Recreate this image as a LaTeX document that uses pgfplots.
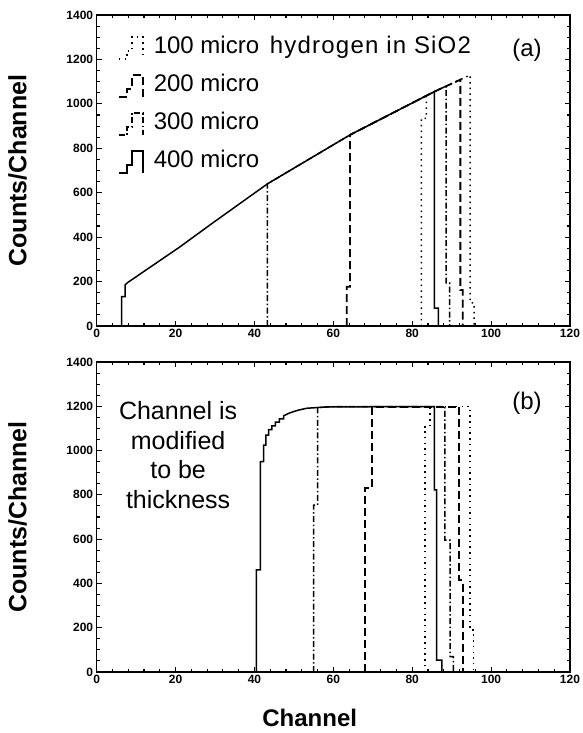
\documentclass[border=0pt]{standalone}
\usepackage{pgfplots}
\pgfplotsset{compat=1.18}
\usepackage{fontspec}
\setmainfont{Liberation Sans}
\pgfplotsset{
  panel/.style={
    width=473.3pt, scale only axis,
    xmin=0, xmax=120, ymin=0, ymax=1400,
    xtick={0,20,...,120}, ytick={0,200,...,1400},
    minor x tick num=4, minor y tick num=3,
    tick align=inside, major tick length=5pt, minor tick length=3pt,
    tick style={line width=1.1pt, black},
    axis line style={line width=1.5pt},
    /pgf/number format/assume math mode=true,
    /pgf/number format/1000 sep={},
    ticklabel style={font=\bfseries\fontsize{12}{12}\selectfont},
    every axis y label/.style={at={(axis description cs:-0.167,0.5)}, rotate=90, anchor=center, font=\bfseries\fontsize{25}{25}\selectfont},
    every axis x label/.style={at={(axis description cs:0.45,-0.148)}, anchor=center, font=\bfseries\fontsize{24}{24}\selectfont},
    ylabel={Counts/Channel},
  },
  s100/.style={black, line width=1.5pt, dash pattern=on 1.5pt off 4.2pt},
  s200/.style={black, line width=1.8pt, dash pattern=on 8pt off 4pt},
  s300/.style={black, line width=1.5pt, dash pattern=on 6pt off 2.5pt on 1.5pt off 2.5pt},
  s400/.style={black, line width=1.5pt},
}
\begin{document}
\begin{tikzpicture}
\path[use as bounding box] (0,0) rectangle (582pt,-733pt);
% ---------------- panel (a) ----------------
\begin{axis}[panel, at={(96.7pt,-326pt)}, anchor=south west, height=311pt,
  legend image code/.code={\draw[#1] (0pt,-11pt) -- (8pt,-11pt) -- (8pt,-3pt) -- (13pt,-3pt) -- (13pt,11pt) -- (24pt,11pt) -- (24pt,-11pt);},
  legend style={at={(axis description cs:0.045,0.937)}, anchor=north west, draw=none, fill=none,
    inner sep=0pt, outer sep=0pt,
    font=\fontsize{24}{28}\selectfont, row sep=11pt, column sep=8pt,
    nodes={text height=17pt, text depth=6pt, inner sep=2pt}},
  legend cell align=left]
\addplot[s100] coordinates {(82.3,0) (82.3,935) (83.6,935) (83.6,1035) (85.6,1055) (94.7,1130) (94.7,104) (95.7,104) (95.7,0)};
\addlegendentry{100 micro\hspace{0.45em}{\addfontfeatures{LetterSpace=5}hydrogen in SiO2}}
\addplot[s200] coordinates {(63.4,0) (63.4,177) (64.2,177) (64.2,860) (85.6,1055) (92.2,1109) (92.2,162) (92.8,162) (92.8,0)};
\addlegendentry{200 micro}
\addplot[s300] coordinates {(43.3,0) (43.3,640) (64.2,860) (85.6,1055) (88.6,1080) (88.6,194) (89.5,194) (89.5,0)};
\addlegendentry{300 micro}
\addplot[s400] coordinates {(0,0) (6.3,0) (6.3,132) (7.2,132) (7.2,185) (7.8,195) (21,355) (29.5,465) (43.3,640) (64.2,860) (85.6,1055) (85.6,81) (86.6,81) (86.6,0) (120,0)};
\addlegendentry{400 micro}
\node[font=\fontsize{24}{24}\selectfont] at (axis description cs:0.909,0.885) {(a)};
\end{axis}
% ---------------- panel (b) ----------------
\begin{axis}[panel, at={(96.7pt,-672pt)}, anchor=south west, height=310pt, xlabel={Channel}]
\addplot[s100] coordinates {(83.2,0) (83.2,1108) (84.5,1108) (84.5,1198) (94.7,1198) (94.7,190) (95.5,190) (95.5,0)};
\addplot[s200] coordinates {(68,0) (68,830) (69.7,830) (69.7,1198) (91.9,1198) (91.9,415) (92.8,415) (92.8,0)};
\addplot[s300] coordinates {(55,0) (55,754) (56,754) (56,1195) (60,1198) (88.3,1198) (88.3,596) (89.6,596) (89.6,69) (90.4,69) (90.4,0)};
\addplot[s400] coordinates {(0,0) (40.5,0) (40.5,461) (41.5,461) (41.5,950) (42.3,950) (42.3,1025) (42.9,1025) (42.9,1070) (43.6,1070) (43.6,1095) (44.4,1095) (44.4,1112) (45.3,1112) (45.3,1128) (46.3,1128) (46.3,1143) (47.4,1143) (47.4,1157) (48.9,1170) (51,1182) (53.2,1191) (58.2,1197) (70,1198) (85.6,1198) (85.6,822) (86.2,822) (86.2,54) (87.5,54) (87.5,0) (120,0)};
\node[font=\fontsize{24}{24}\selectfont] at (axis description cs:0.909,0.868) {(b)};
\node[font=\fontsize{25}{29.5}\selectfont, align=center] at (axis description cs:0.172,0.70) {Channel is\\modified\\to be\\thickness};
\end{axis}
\end{tikzpicture}
\end{document}
